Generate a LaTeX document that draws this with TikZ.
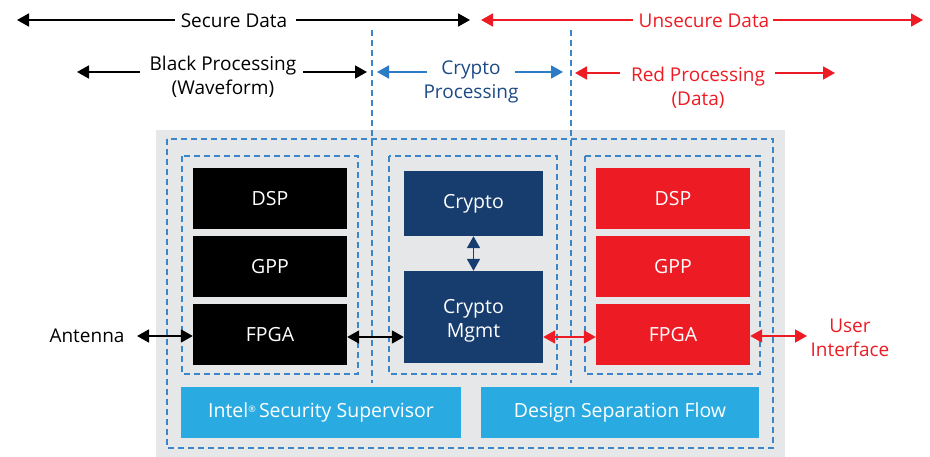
\documentclass[tikz,border=0pt]{standalone}
\usepackage{fontspec}
\setmainfont{Open Sans}
\usetikzlibrary{arrows.meta}
\definecolor{navy}{HTML}{173C6E}
\definecolor{navytext}{HTML}{1D4A84}
\definecolor{bluearrow}{HTML}{2C7BC6}
\definecolor{dashblue}{HTML}{3A86C8}
\definecolor{redc}{HTML}{ED1C24}
\definecolor{lightblue}{HTML}{29ABE2}
\definecolor{graybg}{HTML}{E6E7E9}
\begin{document}
\begin{tikzpicture}[x=1pt,y=-1pt,
  font=\fontsize{19}{23.5}\selectfont,
  arr/.style={line width=1.8pt,{Triangle[length=12pt,width=13pt]}-{Triangle[length=12pt,width=13pt]}},
  arrR/.style={line width=1.8pt,-{Triangle[length=12pt,width=13pt]}},
  lbl/.style={inner sep=0pt,align=center},
  box/.style={inner sep=0pt,text=white,align=center,font=\fontsize{19.5}{24}\selectfont},
  blk/.style={box,fill=black,minimum width=154pt,minimum height=61pt},
  red/.style={box,fill=redc,minimum width=154pt,minimum height=61pt},
  nav/.style={box,fill=navy,minimum width=139pt},
  lb/.style={box,fill=lightblue,minimum height=51pt},
  dsh/.style={draw=dashblue,line width=1.1pt,dash pattern=on 6pt off 4pt},
]
\useasboundingbox (0,0) rectangle (930,457);

% background
\fill[graybg] (156,130) rectangle (785,457);
\draw[dsh] (167,139) rectangle (773,448);
\draw[dsh] (182,156) rectangle (358,374);
\draw[dsh] (389,156) rectangle (557,374);
\draw[dsh] (585,156) rectangle (760,374);
\draw[dsh] (372,30) -- (372,383);
\draw[dsh] (571,30) -- (571,383);

% top labels
\node[lbl] (sd) at (234,21) {Secure Data};
\coordinate (sdl) at (17,20); \coordinate (sdla) at (175,20);
\coordinate (sdr) at (470,20); \coordinate (sdra) at (296,20);
\draw[arrR] (sdla) -- (sdl);
\draw[arrR] (sdra) -- (sdr);

\node[lbl,text=redc] (ud) at (704,21) {Unsecure Data};
\coordinate (udl) at (481,20); \coordinate (udla) at (633,20);
\coordinate (udr) at (923,20); \coordinate (udra) at (773,20);
\draw[arrR,redc] (udla) -- (udl);
\draw[arrR,redc] (udra) -- (udr);

\node[lbl] (bp) at (223,77) {Black Processing\\(Waveform)};
\coordinate (bpl) at (77,72); \coordinate (bpla) at (140,72);
\coordinate (bpr) at (367,72); \coordinate (bpra) at (303,72);
\draw[arrR] (bpla) -- (bpl);
\draw[arrR] (bpra) -- (bpr);

\node[lbl,text=navytext] (cp) at (471,82) {Crypto\\Processing};
\coordinate (cpl) at (377,72); \coordinate (cpla) at (427,72);
\coordinate (cpr) at (563,72); \coordinate (cpra) at (515,72);
\draw[arrR,bluearrow] (cpla) -- (cpl);
\draw[arrR,bluearrow] (cpra) -- (cpr);

\node[lbl,text=redc] (rp) at (698,88) {Red Processing\\(Data)};
\coordinate (rpl) at (575,73); \coordinate (rpla) at (620,73);
\coordinate (rpr) at (835,73); \coordinate (rpra) at (775,73);
\draw[arrR,redc] (rpla) -- (rpl);
\draw[arrR,redc] (rpra) -- (rpr);

% black column
\node[blk] (bdsp) at (270,198.5) {DSP};
\node[blk] (bgpp) at (270,266.5) {GPP};
\node[blk] (bfpga) at (270,334.5) {FPGA};

% crypto column
\node[nav,minimum height=65pt] (cr) at (473.5,203.5) {Crypto};
\node[nav,minimum height=92pt,
  label={[box,yshift=-4pt]center:Crypto\\Mgmt}] (cm) at (473.5,317) {};

% red column
\node[red] (rdsp) at (673,198.5) {DSP};
\node[red] (rgpp) at (673,266.5) {GPP};
\node[red] (rfpga) at (673,334.5) {FPGA};

% bottom bars
\node[lb,minimum width=280pt] (iss) at (321,412.5) {Intel\raisebox{5pt}{\fontsize{9}{9}\selectfont\textregistered}\,Security Supervisor};
\node[lb,minimum width=278pt] (dsf) at (620,412.5) {Design Separation Flow};

% side labels
\node[lbl] (ant) at (87,336) {Antenna};
\coordinate (antr) at (137,336);
\node[lbl,text=redc] (ui) at (850,338) {User\\Interface};
\coordinate (uil) at (807,336);

% connectors
\draw[arr] (antr) -- (bfpga.west |- antr);
\draw[arr] (bfpga.east |- 0,337) -- (cm.west |- 0,337);
\draw[arr,navy] (cr.south) -- (cm.north);
\draw[arr,redc] (cm.east |- 0,337) -- (rfpga.west |- 0,337);
\draw[arr,redc] (rfpga.east |- uil) -- (uil);
\end{tikzpicture}
\end{document}
